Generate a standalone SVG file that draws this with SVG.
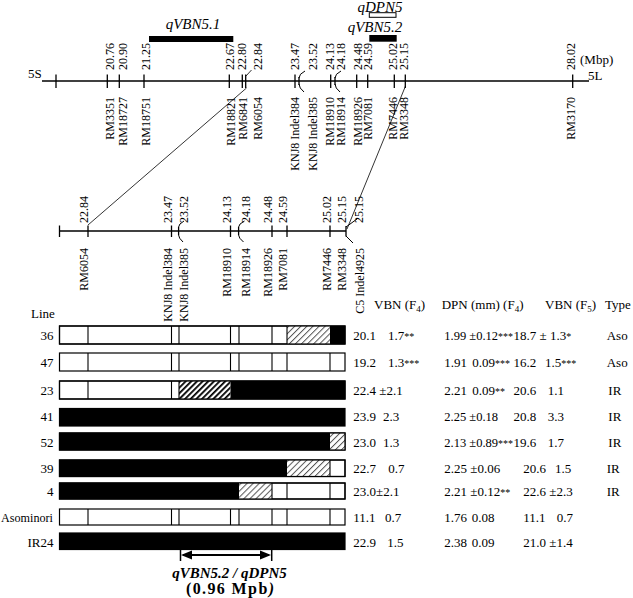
<svg xmlns="http://www.w3.org/2000/svg" width="633" height="598" viewBox="0 0 633 598">
<style>
text{font-family:"Liberation Serif","Times New Roman",serif;fill:#000}
.m{font-size:12px}
.up{text-anchor:start}
.dn{text-anchor:end}
.t{font-size:13px}
.s{font-size:12.5px}
.a{font-size:10px}
.q{font-size:15px;font-style:italic}
.ax{stroke:#000;stroke-width:1.3;fill:none}
.tk{stroke:#000;stroke-width:1.3;fill:none}
.ld{stroke:#000;stroke-width:0.8;fill:none}
.row{fill:#fff;stroke:#000;stroke-width:1.2}
.rowo{fill:none;stroke:#000;stroke-width:1.2}
.blk{fill:#000}
.hl{fill:url(#hatchLight)}
.hb{fill:url(#hatchBold)}
.sep{stroke:#000;stroke-width:1.1}
.r{text-anchor:end}
</style>
<defs>
<pattern id="hatchLight" patternUnits="userSpaceOnUse" width="4.3" height="4.3" patternTransform="rotate(45)">
<rect width="4.3" height="4.3" fill="#fff"/>
<rect x="0" y="0" width="1" height="4.3" fill="#555"/>
</pattern>
<pattern id="hatchBold" patternUnits="userSpaceOnUse" width="4" height="4" patternTransform="rotate(45)">
<rect width="4" height="4" fill="#fff"/>
<rect x="0" y="0" width="1.8" height="4" fill="#000"/>
</pattern>
</defs>

<!-- QTL bars -->
<g id="qVBN5.1">
<text class="q" x="193" y="29" text-anchor="middle">qVBN5.1</text>
<rect x="149" y="36" width="84.3" height="6" fill="#000"/>
</g>
<g id="qDPN5">
<text class="q" x="380" y="11.5" text-anchor="middle" font-size="14">qDPN5</text>
<rect x="369.3" y="12.7" width="26.7" height="4.6" fill="#fff" stroke="#000" stroke-width="1"/>
</g>
<g id="qVBN5.2">
<text class="q" x="375" y="32" text-anchor="middle">qVBN5.2</text>
<rect x="369.3" y="35" width="27.4" height="6.7" fill="#000"/>
</g>

<!-- Top chromosome -->
<g id="chr5-top">
<text class="t" x="28" y="78" font-size="14">5S</text>
<text class="t" x="588" y="80" font-size="14">5L</text>
<text class="t" x="580" y="64">(Mbp)</text>
<line class="ax" x1="42" y1="81" x2="589" y2="81"/>
<line class="tk" x1="56" y1="74.5" x2="56" y2="88"/>
</g>
<g id="t-RM3351"><line class="tk" x1="107.3" y1="74.5" x2="107.3" y2="88"/>
<text class="m up" transform="translate(114,70) rotate(-90)">20.76</text>
<text class="m dn" transform="translate(114,97) rotate(-90)">RM3351</text></g>
<g id="t-RM18727"><line class="tk" x1="119.3" y1="74.5" x2="119.3" y2="88"/>
<text class="m up" transform="translate(126.5,70) rotate(-90)">20.90</text>
<text class="m dn" transform="translate(126.5,97) rotate(-90)">RM18727</text></g>
<g id="t-RM18751"><line class="tk" x1="144" y1="74.5" x2="144" y2="88"/>
<text class="m up" transform="translate(150,70) rotate(-90)">21.25</text>
<text class="m dn" transform="translate(150,97) rotate(-90)">RM18751</text></g>
<g id="t-RM18821"><line class="tk" x1="229.3" y1="74.5" x2="229.3" y2="88"/>
<text class="m up" transform="translate(234,70) rotate(-90)">22.67</text>
<text class="m dn" transform="translate(234.5,97) rotate(-90)">RM18821</text></g>
<g id="t-RM6841"><line class="tk" x1="242.3" y1="74.5" x2="242.3" y2="88"/>
<text class="m up" transform="translate(245.5,70) rotate(-90)">22.80</text>
<text class="m dn" transform="translate(246.5,97) rotate(-90)">RM6841</text></g>
<g id="t-RM6054"><line class="tk" x1="245.7" y1="74.5" x2="245.7" y2="88"/>
<text class="m up" transform="translate(261.5,70) rotate(-90)">22.84</text>
<text class="m dn" transform="translate(262,97) rotate(-90)">RM6054</text></g>
<g id="t-KNJ8-Indel384"><line class="tk" x1="295" y1="74.5" x2="295" y2="88"/>
<text class="m up" transform="translate(298.5,70) rotate(-90)">23.47</text>
<text class="m dn" transform="translate(298.5,97) rotate(-90)">KNJ8 Indel384</text></g>
<g id="t-KNJ8-Indel385"><path class="tk" d="M299,77 L299,85"/>
<text class="m up" transform="translate(316.5,70) rotate(-90)">23.52</text>
<text class="m dn" transform="translate(316.5,97) rotate(-90)">KNJ8 Indel385</text></g>
<g id="t-RM18910"><line class="tk" x1="330.7" y1="74.5" x2="330.7" y2="88"/>
<text class="m up" transform="translate(333.5,70) rotate(-90)">24.13</text>
<text class="m dn" transform="translate(333.5,97) rotate(-90)">RM18910</text></g>
<g id="t-RM18914"><path class="tk" d="M335,77 L335,85"/>
<text class="m up" transform="translate(345,70) rotate(-90)">24.18</text>
<text class="m dn" transform="translate(345,97) rotate(-90)">RM18914</text></g>
<g id="t-RM18926"><line class="tk" x1="356.7" y1="74.5" x2="356.7" y2="88"/>
<text class="m up" transform="translate(361.7,70) rotate(-90)">24.48</text>
<text class="m dn" transform="translate(361.7,97) rotate(-90)">RM18926</text></g>
<g id="t-RM7081"><line class="tk" x1="367.7" y1="74.5" x2="367.7" y2="88"/>
<text class="m up" transform="translate(371.7,70) rotate(-90)">24.59</text>
<text class="m dn" transform="translate(371.7,97) rotate(-90)">RM7081</text></g>
<g id="t-RM7446"><line class="tk" x1="394.3" y1="74.5" x2="394.3" y2="88"/>
<text class="m up" transform="translate(397,70) rotate(-90)">25.02</text>
<text class="m dn" transform="translate(397,97) rotate(-90)">RM7446</text></g>
<g id="t-RM3348"><line class="tk" x1="405.3" y1="74.5" x2="405.3" y2="88"/>
<text class="m up" transform="translate(408.3,70) rotate(-90)">25.15</text>
<text class="m dn" transform="translate(408.3,97) rotate(-90)">RM3348</text></g>
<g id="t-RM3170"><line class="tk" x1="572.7" y1="74.5" x2="572.7" y2="88"/>
<text class="m up" transform="translate(575,70) rotate(-90)">28.02</text>
<text class="m dn" transform="translate(575,97) rotate(-90)">RM3170</text></g>

<!-- Middle (enlarged) chromosome -->
<g id="chr5-mid">
<line class="ax" x1="59.5" y1="231" x2="346" y2="231"/>
<line class="tk" x1="59.5" y1="225.5" x2="59.5" y2="237"/>
</g>
<g id="m-RM6054"><line class="tk" x1="88" y1="225.5" x2="88" y2="237"/>
<text class="m up" transform="translate(87.7,223) rotate(-90)">22.84</text>
<text class="m dn" transform="translate(87.7,248) rotate(-90)">RM6054</text></g>
<g id="m-KNJ8-Indel384"><line class="tk" x1="171.5" y1="225.5" x2="171.5" y2="237"/>
<text class="m up" transform="translate(171.7,223) rotate(-90)">23.47</text>
<text class="m dn" transform="translate(171.7,248) rotate(-90)">KNJ8 Indel384</text></g>
<g id="m-KNJ8-Indel385"><path class="tk" d="M178.6,227 L178.6,235"/>
<text class="m up" transform="translate(188,223) rotate(-90)">23.52</text>
<text class="m dn" transform="translate(188,248) rotate(-90)">KNJ8 Indel385</text></g>
<g id="m-RM18910"><line class="tk" x1="230.5" y1="225.5" x2="230.5" y2="237"/>
<text class="m up" transform="translate(230.5,223) rotate(-90)">24.13</text>
<text class="m dn" transform="translate(230.5,248) rotate(-90)">RM18910</text></g>
<g id="m-RM18914"><path class="tk" d="M238.6,227 L238.6,235"/>
<text class="m up" transform="translate(250,223) rotate(-90)">24.18</text>
<text class="m dn" transform="translate(250,248) rotate(-90)">RM18914</text></g>
<g id="m-RM18926"><line class="tk" x1="272" y1="225.5" x2="272" y2="237"/>
<text class="m up" transform="translate(272,223) rotate(-90)">24.48</text>
<text class="m dn" transform="translate(272,248) rotate(-90)">RM18926</text></g>
<g id="m-RM7081"><line class="tk" x1="287" y1="225.5" x2="287" y2="237"/>
<text class="m up" transform="translate(287,223) rotate(-90)">24.59</text>
<text class="m dn" transform="translate(287,248) rotate(-90)">RM7081</text></g>
<g id="m-RM7446"><line class="tk" x1="330" y1="225.5" x2="330" y2="237"/>
<text class="m up" transform="translate(331,223) rotate(-90)">25.02</text>
<text class="m dn" transform="translate(331,248) rotate(-90)">RM7446</text></g>
<g id="m-RM3348"><line class="tk" x1="346" y1="226" x2="346" y2="236.5"/>
<text class="m up" transform="translate(346,223) rotate(-90)">25.15</text>
<text class="m dn" transform="translate(346,248) rotate(-90)">RM3348</text></g>
<g id="m-C5-Indel4925">
<text class="m up" transform="translate(363,223) rotate(-90)">25.15</text>
<text class="m dn" transform="translate(363.5,248) rotate(-90)">C5 Indel4925</text></g>

<!-- Connectors -->
<g id="connectors">
<line class="ld" x1="246.5" y1="88" x2="88" y2="225"/>
<line class="ld" x1="405.5" y1="86" x2="347" y2="229"/>
<path class="ld" d="M246,76 L251.5,70"/>
<path class="tk" style="stroke-width:1" d="M305,71 Q299,74 299,78 M299,84 Q299,88 304,92"/>
<path class="tk" style="stroke-width:1" d="M341,71 Q335,74 335,78 M335,84 Q335,88 340,92"/>
<path class="tk" style="stroke-width:1" d="M184,221 Q178.6,224 178.6,227 M178.6,235 Q178.6,238 183,242"/>
<path class="tk" style="stroke-width:1" d="M244.5,221 Q238.6,224 238.6,227 M238.6,235 Q238.6,238 243.5,242"/>
<path class="ld" style="stroke-width:1" d="M357,219 L346,227 M346,236 L353,243"/>
</g>

<!-- Table header -->
<g id="header">
<text class="t" x="31" y="318">Line</text>
<text class="t" x="374" y="309">VBN (F<tspan font-size="9" dy="3">4</tspan><tspan dy="-3">)</tspan></text>
<text class="t" x="441.7" y="309">DPN (mm) (F<tspan font-size="9" dy="3">4</tspan><tspan dy="-3">)</tspan></text>
<text class="t" x="545" y="309">VBN (F<tspan font-size="9" dy="3">5</tspan><tspan dy="-3">)</tspan></text>
<text class="t" x="605" y="309">Type</text>
</g>

<!-- Rows -->
<g id="row-36">
<rect class="row" x="59.5" y="326" width="285.5" height="18"/>
<rect class="hl" x="287" y="326" width="43" height="18"/>
<rect class="blk" x="330" y="326" width="15" height="18"/>
<path class="sep" d="M88,326V344M171.5,326V344M179,326V344M230.5,326V344M239,326V344M272,326V344M287,326V344"/>
<rect class="rowo" x="59.5" y="326" width="285.5" height="18"/>
<text class="t r" x="53.5" y="339.5">36</text>
<text class="t" x="353.3" y="339.5">20.1</text>
<text class="t" x="388" y="339.5">1.7<tspan class="a">**</tspan></text>
<text class="s" x="444.3" y="339.5">1.99 ±0.12<tspan class="a">***</tspan></text>
<text class="t" x="513.5" y="339.5">18.7 ± 1.3<tspan class="a">*</tspan></text>
<text class="t" x="606.7" y="339.5">Aso</text>
</g>
<g id="row-47">
<rect class="row" x="59.5" y="353" width="285.5" height="18"/>
<path class="sep" d="M88,353V371M171.5,353V371M179,353V371M230.5,353V371M239,353V371M272,353V371M287,353V371M330,353V371"/>
<text class="t r" x="53.5" y="366.5">47</text>
<text class="t" x="353.3" y="366.5">19.2</text>
<text class="t" x="388" y="366.5">1.3<tspan class="a">***</tspan></text>
<text class="t" x="444.3" y="366.5">1.91</text>
<text class="t" x="472.3" y="366.5">0.09<tspan class="a">***</tspan></text>
<text class="t" x="513.5" y="366.5">16.2</text>
<text class="t" x="545" y="366.5">1.5<tspan class="a">***</tspan></text>
<text class="t" x="606.7" y="366.5">Aso</text>
</g>
<g id="row-23">
<rect class="row" x="59.5" y="381" width="285.5" height="18"/>
<rect class="hb" x="179" y="381" width="51.5" height="18"/>
<rect class="blk" x="230.5" y="381" width="114.5" height="18"/>
<path class="sep" d="M88,381V399M171.5,381V399M179,381V399"/>
<rect class="rowo" x="59.5" y="381" width="285.5" height="18"/>
<text class="t r" x="53.5" y="394.5">23</text>
<text class="t" x="353.3" y="394.5">22.4 ±2.1</text>
<text class="t" x="444.3" y="394.5">2.21</text>
<text class="t" x="472.3" y="394.5">0.09<tspan class="a">**</tspan></text>
<text class="t" x="513.5" y="394.5">20.6</text>
<text class="t" x="547.7" y="394.5">1.1</text>
<text class="t" x="608.3" y="394.5">IR</text>
</g>
<g id="row-41">
<rect class="row blk" x="59.5" y="408.5" width="285.5" height="17.5"/>
<text class="t r" x="53.5" y="421">41</text>
<text class="t" x="353.3" y="421">23.9</text>
<text class="t" x="383" y="421">2.3</text>
<text class="s" x="444.3" y="421">2.25 ±0.18</text>
<text class="t" x="513.5" y="421">20.8</text>
<text class="t" x="547.7" y="421">3.3</text>
<text class="t" x="608.3" y="421">IR</text>
</g>
<g id="row-52">
<rect class="row blk" x="59.5" y="433" width="285.5" height="17"/>
<rect class="hl" x="330" y="433" width="15" height="17"/>
<rect class="rowo" x="59.5" y="433" width="285.5" height="17"/>
<text class="t r" x="53.5" y="447">52</text>
<text class="t" x="353.3" y="447">23.0</text>
<text class="t" x="383" y="447">1.3</text>
<text class="s" x="444.3" y="447">2.13 ±0.89<tspan class="a">***</tspan></text>
<text class="t" x="513.5" y="447">19.6</text>
<text class="t" x="547.7" y="447">1.7</text>
<text class="t" x="608.3" y="447">IR</text>
</g>
<g id="row-39">
<rect class="row" x="59.5" y="460" width="285.5" height="16.5"/>
<rect class="blk" x="59.5" y="460" width="227.5" height="16.5"/>
<rect class="hl" x="287" y="460" width="43" height="16.5"/>
<path class="sep" d="M330,460V476.5"/>
<rect class="rowo" x="59.5" y="460" width="285.5" height="16.5"/>
<text class="t r" x="53.5" y="473">39</text>
<text class="t" x="353.3" y="473">22.7</text>
<text class="t" x="388.3" y="473">0.7</text>
<text class="t" x="444.3" y="473">2.25 ±0.06</text>
<text class="t" x="523.3" y="473">20.6</text>
<text class="t" x="555" y="473">1.5</text>
<text class="t" x="606.7" y="473">IR</text>
</g>
<g id="row-4">
<rect class="row" x="59.5" y="483" width="285.5" height="16"/>
<rect class="blk" x="59.5" y="483" width="179.5" height="16"/>
<rect class="hl" x="239" y="483" width="33" height="16"/>
<path class="sep" d="M272,483V499M287,483V499M330,483V499"/>
<rect class="rowo" x="59.5" y="483" width="285.5" height="16"/>
<text class="t r" x="53.5" y="496">4</text>
<text class="t" x="353.3" y="496">23.0±2.1</text>
<text class="t" x="444.3" y="496">2.21 ±0.12<tspan class="a">**</tspan></text>
<text class="t" x="523.3" y="496">22.6 ±2.3</text>
<text class="t" x="606.7" y="496">IR</text>
</g>
<g id="row-Asominori">
<rect class="row" x="59.5" y="509" width="285.5" height="16"/>
<path class="sep" d="M88,509V525M171.5,509V525M179,509V525M230.5,509V525M239,509V525M272,509V525M287,509V525M330,509V525"/>
<text class="t" x="1" y="522" textLength="52" lengthAdjust="spacingAndGlyphs">Asominori</text>
<text class="t" x="353.3" y="522">11.1</text>
<text class="t" x="385" y="522">0.7</text>
<text class="t" x="444.3" y="522">1.76</text>
<text class="t" x="471.7" y="522">0.08</text>
<text class="t" x="523.3" y="522">11.1</text>
<text class="t" x="556.7" y="522">0.7</text>
</g>
<g id="row-IR24">
<rect class="row blk" x="59.5" y="533" width="285.5" height="16.5"/>
<text class="t r" x="53.5" y="546.5">IR24</text>
<text class="t" x="353.3" y="546.5">22.9</text>
<text class="t" x="387.3" y="546.5">1.5</text>
<text class="t" x="444.3" y="546.5">2.38</text>
<text class="t" x="471.7" y="546.5">0.09</text>
<text class="t" x="523.3" y="546.5">21.0 ±1.4</text>
</g>

<!-- Interval arrow -->
<g id="interval">
<line x1="183" y1="555" x2="269" y2="555" stroke="#000" stroke-width="2"/>
<polygon points="181,555 192,550.5 192,559.5" fill="#000"/>
<polygon points="271,555 260,550.5 260,559.5" fill="#000"/>
<line x1="180.5" y1="549.5" x2="180.5" y2="561" stroke="#000" stroke-width="1.5"/>
<line x1="271.7" y1="549.5" x2="271.7" y2="561" stroke="#000" stroke-width="1.5"/>
<text x="229.5" y="578" font-size="15" font-weight="bold" font-style="italic" text-anchor="middle">qVBN5.2 / qDPN5</text>
<text x="186" y="594" font-size="16" font-weight="bold" textLength="88" lengthAdjust="spacing">(0.96 Mpb<tspan font-style="italic">)</tspan></text>
</g>
</svg>
